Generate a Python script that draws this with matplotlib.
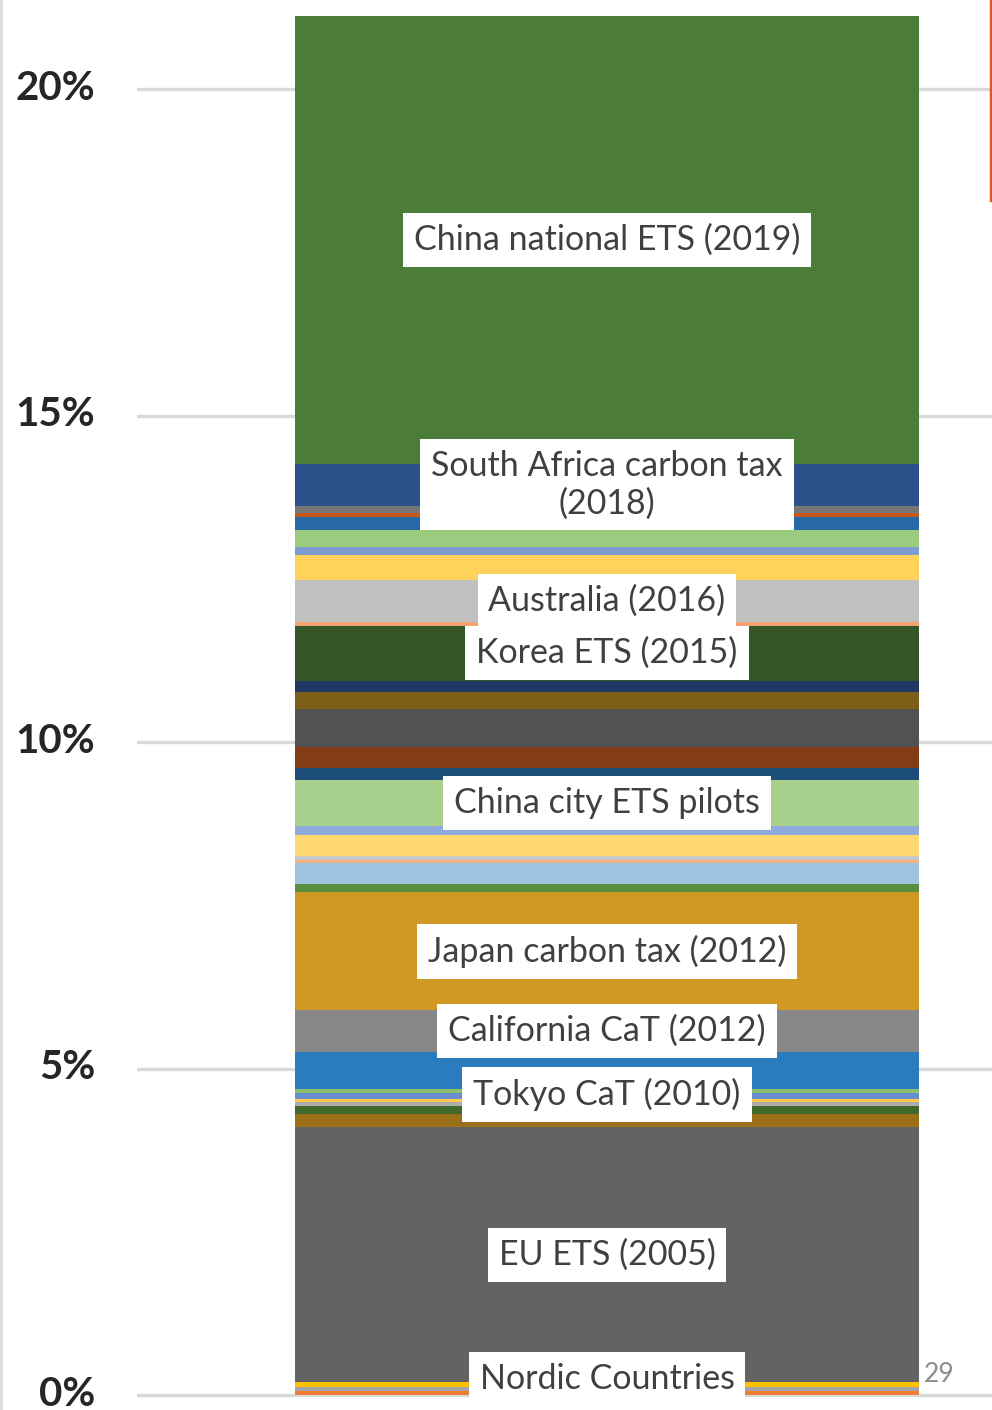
import matplotlib
matplotlib.use("Agg")
import matplotlib.pyplot as plt
from matplotlib.lines import Line2D
from matplotlib.transforms import ScaledTranslation
import numpy as np

# ---- data (share of global emissions covered, %, stacked from bottom) ----
values = [0.06, 0.06, 0.08, 3.90, 0.20, 0.12, 0.06, 0.06, 0.08, 0.06,
          0.58, 0.63, 1.81, 0.12, 0.32, 0.06, 0.06, 0.32, 0.14, 0.70,
          0.18, 0.32, 0.58, 0.26, 0.18, 0.84, 0.06, 0.64, 0.38, 0.12,
          0.26, 0.20, 0.06, 0.12, 0.64, 6.86]
colors = ["#ED7D31", "#A5A5A5", "#FFC000", "#636363", "#9A6F18", "#43682B",
          "#ADADAD", "#FFC84A", "#6A8FD0", "#8CC06C", "#2B7BBF", "#878787",
          "#D09825", "#5A8E3F", "#9DC3E3", "#F4B183", "#C9C9C9", "#FFD870",
          "#8FAADC", "#A9D18E", "#1C4E79", "#843C16", "#525252", "#7F5F17",
          "#1F3864", "#375628", "#F4A370", "#C0C0C0", "#FFD25B", "#7C9CD2",
          "#9ACB7E", "#2669A6", "#C55A1A", "#767676", "#2C5089", "#4C7C39"]
label_index = [0, 3, 10, 11, 12, 19, 25, 27, 34, 35]
label_text = ["Nordic Countries", "EU ETS (2005)", "Tokyo CaT (2010)",
              "California CaT (2012)", "Japan carbon tax (2012)",
              "China city ETS pilots", "Korea ETS (2015)", "Australia (2016)",
              "South Africa carbon tax\n(2018)", "China national ETS (2019)"]
label_offset_pt = [10, 0, -17, 0, 0, 0, 0, 0, 0, 0]
y_ticks = [0, 5, 10, 15, 20]
y_ticklabels = ["0%", "5%", "10%", "15%", "20%"]

W, H = 992, 1410
fig = plt.figure(figsize=(W / 100, H / 100), dpi=100)
fig.patch.set_facecolor("white")
ax = fig.add_axes([137 / W, 0, 940 / W, 1])
ax.set_xlim(-0.5, 0.5)
ax.set_ylim(-15 / 65.3, 1395 / 65.3)

bar_w = 624 / 940
bottoms = np.concatenate([[0], np.cumsum(values)[:-1]])
ax.bar(np.zeros(len(values)), values, bottom=bottoms, width=bar_w,
       color=colors, linewidth=0, zorder=2)

ax.set_yticks(y_ticks)
ax.set_yticklabels(y_ticklabels, fontfamily="Lato", fontweight="bold",
                   fontsize=29, color="#262626")
ax.tick_params(axis="y", length=0, pad=30)
shift = ScaledTranslation(0, 3 / 72, fig.dpi_scale_trans)
for lbl in ax.get_yticklabels():
    lbl.set_transform(lbl.get_transform() + shift)
ax.set_xticks([])
ax.yaxis.grid(True, color="#D9D9D9", linewidth=2.4, zorder=0)
ax.set_axisbelow(True)
for s in ax.spines.values():
    s.set_visible(False)

for idx, txt, off in zip(label_index, label_text, label_offset_pt):
    yc = bottoms[idx] + values[idx] / 2
    ax.annotate(txt, xy=(0, yc), xytext=(0, off), textcoords="offset points",
                ha="center", va="center", fontfamily="Lato", fontsize=24.5,
                color="#404040", linespacing=1.2, zorder=5,
                bbox=dict(boxstyle="square,pad=0.32", fc="white", ec="none"))

# slide decorations
fig.add_artist(Line2D([1 / W, 1 / W], [0, 1], color="#D9D9D9", lw=2,
                      transform=fig.transFigure))
fig.add_artist(Line2D([991 / W, 991 / W], [1, 1 - 200 / H], color="#E0561E",
                      lw=2.5, transform=fig.transFigure))
fig.text(924 / W, 1 - 1374 / H, "29", fontfamily="Lato", fontsize=19,
         color="#8C8C8C", ha="left", va="center")

fig.savefig("out.png", dpi=100, facecolor="white")
